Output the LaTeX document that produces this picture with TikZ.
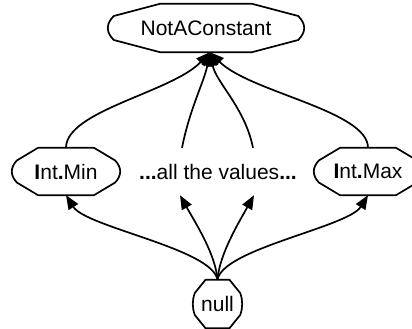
\documentclass[tikz,border=0pt]{standalone}
\usepackage{fontspec}
\setmainfont{Liberation Sans}
\usetikzlibrary{arrows.meta}

% Octagon outline with bulging sides around a node:
% #1 node, #2 half width of the flat top/bottom, #3 side inset, #4 half height of the side
\newcommand\octframe[4]{%
  \draw[frame] ([xshift=-#2]#1.north) -- ([xshift=#2]#1.north)
    -- ([xshift=-#3,yshift=#4]#1.east)
    .. controls ([xshift=#3/3,yshift=#4/3]#1.east) and ([xshift=#3/3,yshift=-#4/3]#1.east)
    .. ([xshift=-#3,yshift=-#4]#1.east)
    -- ([xshift=#2]#1.south) -- ([xshift=-#2]#1.south)
    -- ([xshift=#3,yshift=-#4]#1.west)
    .. controls ([xshift=-#3/3,yshift=-#4/3]#1.west) and ([xshift=-#3/3,yshift=#4/3]#1.west)
    .. ([xshift=#3,yshift=#4]#1.west) -- cycle;}

\begin{document}
\begin{tikzpicture}[x=1pt,y=1pt,
  lbl/.style={font=\fontsize{21}{25}\selectfont, inner sep=0pt},
  frame/.style={line width=1.7pt, line join=round},
  link/.style={line width=1.7pt, -{Triangle[length=14pt,width=11pt]}}]
\useasboundingbox (0,0) rectangle (412,329);
\clip (0,0) rectangle (412,329);

% nodes
\node[lbl, minimum width=196pt, minimum height=48pt] (nac) at (206,301) {NotAConstant};
\node[lbl, minimum width=108pt, minimum height=47pt] (imin) at (66,157.5) {\textbf{I}nt\textbf{.}Min};
\node[lbl, minimum width=108pt, minimum height=47pt] (imax) at (368,157.5) {\textbf{I}nt\textbf{.}Max};
\node[lbl, minimum height=47pt] (vals) at (218,157.5) {\textbf{...}all the values\textbf{...}};
\node[lbl, minimum width=49pt, minimum height=48pt] (nul) at (217.5,25) {null};

\octframe{nac}{46}{6}{12}
\octframe{imin}{28}{5}{11}
\octframe{imax}{28}{5}{11}
\octframe{nul}{12}{2}{11}

\coordinate (tipN) at ([xshift=4pt]nac.south);

% edges into NotAConstant
\draw[link] (imin.north) .. controls +(0,37) and +(-38,-40) .. (tipN);
\draw[link] ([xshift=-36pt]vals.north) .. controls +(8,40) and +(-6,-30) .. (tipN);
\draw[link] ([xshift=35pt]vals.north) .. controls +(-8,40) and +(6,-30) .. (tipN);
\draw[link] (imax.north) .. controls +(0,37) and +(40,-40) .. (tipN);

% edges out of null
\draw[link] (nul.north) .. controls +(-5,31) and +(20,-32) .. (imin.south);
\draw[link] (nul.north) .. controls +(-2,26) and +(15,-27) .. ([xshift=-38pt]vals.south);
\draw[link] (nul.north) .. controls +(2,26) and +(-15,-27) .. ([xshift=36pt]vals.south);
\draw[link] (nul.north) .. controls +(5,31) and +(-20,-32) .. (imax.south);
\end{tikzpicture}
\end{document}
